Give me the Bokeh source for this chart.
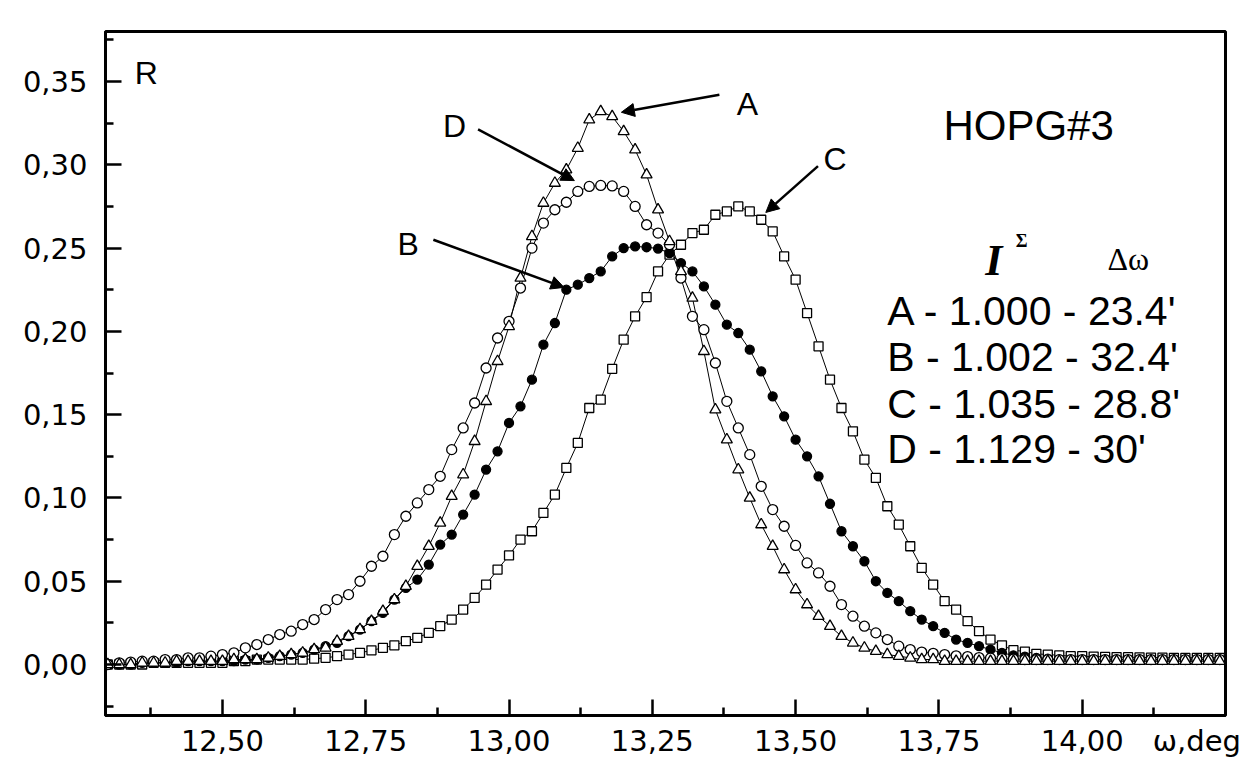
from bokeh.plotting import figure
from bokeh.models import (Range1d, FixedTicker, CustomJSTickFormatter, Label,
                          Arrow, NormalHead, LinearAxis)
from bokeh.embed import file_html
from bokeh.resources import INLINE

# ---------------- data ----------------
omega = [12.30, 12.32, 12.34, 12.36, 12.38, 12.40, 12.42, 12.44, 12.46, 12.48,
         12.50, 12.52, 12.54, 12.56, 12.58, 12.60, 12.62, 12.64, 12.66, 12.68,
         12.70, 12.72, 12.74, 12.76, 12.78, 12.80, 12.82, 12.84, 12.86, 12.88,
         12.90, 12.92, 12.94, 12.96, 12.98, 13.00, 13.02, 13.04, 13.06, 13.08,
         13.10, 13.12, 13.14, 13.16, 13.18, 13.20, 13.22, 13.24, 13.26, 13.28,
         13.30, 13.32, 13.34, 13.36, 13.38, 13.40, 13.42, 13.44, 13.46, 13.48,
         13.50, 13.52, 13.54, 13.56, 13.58, 13.60, 13.62, 13.64, 13.66, 13.68,
         13.70, 13.72, 13.74, 13.76, 13.78, 13.80, 13.82, 13.84, 13.86, 13.88,
         13.90, 13.92, 13.94, 13.96, 13.98, 14.00, 14.02, 14.04, 14.06, 14.08,
         14.10, 14.12, 14.14, 14.16, 14.18, 14.20, 14.22, 14.24]

R_A = [0.000, 0.000, 0.000, 0.001, 0.001, 0.001, 0.002, 0.002, 0.002, 0.002,
       0.002, 0.003, 0.003, 0.003, 0.004,
       0.005, 0.006, 0.007, 0.009, 0.010, 0.014, 0.017, 0.021, 0.026, 0.032,
       0.039, 0.047, 0.059, 0.071, 0.085, 0.101, 0.114, 0.134, 0.158, 0.182,
       0.203, 0.232, 0.257, 0.277, 0.289, 0.297, 0.310, 0.327, 0.332, 0.329,
       0.320, 0.309, 0.294, 0.273, 0.254, 0.236, 0.220, 0.188, 0.153, 0.135,
       0.117, 0.100, 0.084, 0.071, 0.057, 0.045, 0.036, 0.029, 0.023, 0.017,
       0.013, 0.010, 0.008, 0.006, 0.005, 0.004, 0.003, 0.003, 0.002, 0.002,
       0.002, 0.002, 0.002, 0.002, 0.002, 0.002, 0.002, 0.002, 0.002, 0.002,
       0.002, 0.002, 0.002, 0.002, 0.002, 0.002, 0.002, 0.002, 0.002, 0.002,
       0.002, 0.002, 0.002]

R_B = [0.000, 0.000, 0.000, 0.001, 0.001, 0.001, 0.001, 0.002, 0.002, 0.002,
       0.002, 0.002, 0.003, 0.003, 0.004,
       0.005, 0.006, 0.007, 0.009, 0.011, 0.013, 0.017, 0.021, 0.026, 0.031,
       0.039, 0.046, 0.051, 0.060, 0.072, 0.078, 0.090, 0.102, 0.117, 0.128,
       0.145, 0.155, 0.171, 0.192, 0.205, 0.225, 0.228, 0.232, 0.236, 0.245,
       0.250, 0.251, 0.2505, 0.2497, 0.247, 0.241, 0.236, 0.227, 0.216, 0.204,
       0.199, 0.189, 0.176, 0.161, 0.149, 0.135, 0.125, 0.113, 0.0965, 0.080,
       0.071, 0.062, 0.050, 0.043, 0.038, 0.032, 0.027, 0.023, 0.019, 0.015,
       0.013, 0.011, 0.009, 0.007, 0.0055, 0.0048, 0.004, 0.0035, 0.003, 0.003,
       0.003, 0.003, 0.003, 0.003, 0.003, 0.003, 0.003, 0.003, 0.003, 0.003,
       0.003, 0.003, 0.003]

R_C = [0.000, 0.000, 0.000, 0.000, 0.001, 0.001, 0.001, 0.001, 0.001, 0.001,
       0.001, 0.002, 0.002, 0.003, 0.003,
       0.003, 0.003, 0.003, 0.0035, 0.004, 0.005, 0.006, 0.007, 0.0085, 0.010,
       0.0115, 0.014, 0.016, 0.019, 0.023, 0.027, 0.033, 0.040, 0.048, 0.057,
       0.0655, 0.075, 0.080, 0.091, 0.102, 0.118, 0.133, 0.154, 0.159, 0.1775,
       0.195, 0.209, 0.2206, 0.236, 0.246, 0.252, 0.259, 0.261, 0.270, 0.272,
       0.275, 0.272, 0.267, 0.260, 0.245, 0.231, 0.211, 0.191, 0.171, 0.154,
       0.140, 0.123, 0.112, 0.095, 0.084, 0.071, 0.058, 0.048, 0.038, 0.033,
       0.026, 0.020, 0.015, 0.0115, 0.0086, 0.0078, 0.0064, 0.006, 0.0055, 0.005,
       0.005, 0.0048, 0.0046, 0.0045, 0.0044, 0.0043, 0.0042, 0.0041, 0.004, 0.004,
       0.004, 0.004, 0.004]

R_D = [0.000, 0.001, 0.0015, 0.002, 0.002, 0.003, 0.003, 0.004, 0.004, 0.005,
       0.006, 0.007, 0.010, 0.012, 0.015,
       0.018, 0.020, 0.024, 0.027, 0.033, 0.039, 0.042, 0.050, 0.059, 0.065,
       0.078, 0.089, 0.097, 0.105, 0.113, 0.129, 0.142, 0.157, 0.178, 0.196,
       0.206, 0.226, 0.250, 0.265, 0.273, 0.2775, 0.284, 0.287, 0.2876, 0.2873,
       0.284, 0.275, 0.264, 0.259, 0.252, 0.232, 0.209, 0.201, 0.181, 0.158,
       0.142, 0.126, 0.107, 0.093, 0.083, 0.0715, 0.061, 0.055, 0.047, 0.036,
       0.029, 0.023, 0.019, 0.015, 0.011, 0.009, 0.0075, 0.0067, 0.006, 0.0052,
       0.0048, 0.0042, 0.0038, 0.0035, 0.0033, 0.003, 0.003, 0.003, 0.003, 0.003,
       0.003, 0.003, 0.003, 0.003, 0.003, 0.003, 0.003, 0.003, 0.003, 0.003,
       0.003, 0.003, 0.003]

x_major = [12.50, 12.75, 13.00, 13.25, 13.50, 13.75, 14.00]
x_minor = [12.375, 12.625, 12.875, 13.125, 13.375, 13.625, 13.875, 14.125]
y_major = [0.00, 0.05, 0.10, 0.15, 0.20, 0.25, 0.30, 0.35]
y_minor = [-0.025, 0.025, 0.075, 0.125, 0.175, 0.225, 0.275, 0.325, 0.375]
x_unit_pos = 14.20          # where the "ω,deg" unit text sits on the x axis

curve_names = ["A", "B", "C", "D"]
sum_intensity = ["1.000", "1.002", "1.035", "1.129"]
fwhm = ["23.4'", "32.4'", "28.8'", "30'"]

# ---------------- figure ----------------
p = figure(width=1258, height=780, output_backend="svg", toolbar_location=None,
           x_range=Range1d(12.296, 14.25), y_range=Range1d(-0.0306, 0.380),
           min_border_left=105, min_border_right=33, min_border_top=31,
           min_border_bottom=65)
p.grid.visible = False
p.background_fill_color = "white"
p.border_fill_color = "white"
p.outline_line_color = "black"
p.outline_line_width = 3

fmt = CustomJSTickFormatter(code="return tick.toFixed(2).replace('.', ',');")


def style_ticks(ax):
    ax.axis_line_width = 3
    ax.axis_line_color = "black"
    ax.major_tick_in = 16
    ax.major_tick_out = 0
    ax.minor_tick_in = 8
    ax.minor_tick_out = 0
    ax.major_tick_line_width = 2.5
    ax.minor_tick_line_width = 2.5


# y axis
ya = p.yaxis[0]
ya.ticker = FixedTicker(ticks=y_major, minor_ticks=y_minor)
ya.formatter = fmt
style_ticks(ya)
ya.major_label_text_font = "DejaVu Sans"
ya.major_label_text_font_size = "29px"
ya.major_label_text_color = "black"
ya.major_label_standoff = 18

# x axis (nearest the frame): line and tick marks only
xa = p.xaxis[0]
xa.ticker = FixedTicker(ticks=x_major, minor_ticks=x_minor)
xa.formatter = CustomJSTickFormatter(code="return '';")
style_ticks(xa)
xa.major_label_text_font_size = "1px"
xa.major_label_standoff = 0

# second x axis: only the labels, including the unit text "ω,deg"
xl = LinearAxis(ticker=FixedTicker(ticks=x_major + [x_unit_pos], minor_ticks=[]),
                formatter=CustomJSTickFormatter(code="""
                    if (tick > 14.1) { return '\u03c9,deg'; }
                    return tick.toFixed(2).replace('.', ',');"""))
xl.axis_line_color = None
xl.major_tick_line_color = None
xl.minor_tick_line_color = None
xl.major_tick_in = 0
xl.major_tick_out = 0
xl.minor_tick_in = 0
xl.minor_tick_out = 0
xl.major_label_text_font = "DejaVu Sans"
xl.major_label_text_font_size = "29px"
xl.major_label_text_color = "black"
xl.major_label_standoff = 8
p.add_layout(xl, "below")

# curves: connecting line + markers
series = [
    (R_C, "square", 9, "white"),
    (R_B, "circle", 9, "black"),
    (R_D, "circle", 10, "white"),
    (R_A, "triangle", 11, "white"),
]
for ys, mk, sz, fill in series:
    p.line(omega, ys, line_color="black", line_width=1)
for ys, mk, sz, fill in series:
    p.scatter(omega, ys, marker=mk, size=sz, fill_color=fill,
              line_color="black", line_width=1.3)


# ---------------- annotations ----------------
def txt(x, y, s, size, font="Liberation Sans", align="left",
        baseline="alphabetic", style="normal"):
    p.add_layout(Label(x=x, y=y, text=s, text_font=font,
                       text_font_size=size, text_align=align,
                       text_baseline=baseline, text_font_style=style,
                       text_color="black"))


txt(12.367, 0.3553, "R", "32px", align="center")
txt(13.758, 0.3236, "HOPG#3", "42px")

# arrows to curves
arrows = [((13.367, 0.342), (13.196, 0.3315)),   # A
          ((12.868, 0.255), (13.096, 0.2264)),   # B
          ((13.539, 0.2992), (13.448, 0.2714)),  # C
          ((12.946, 0.3213), (13.114, 0.2905))]  # D
for (xs, ys), (xe, ye) in arrows:
    p.add_layout(Arrow(end=NormalHead(size=13, fill_color="black",
                                      line_color="black", line_width=1),
                       x_start=xs, y_start=ys, x_end=xe, y_end=ye,
                       line_width=2.5, line_color="black"))
letter_pos = [(13.416, 0.3367), (12.824, 0.2525), (13.569, 0.3036), (12.905, 0.323)]
for name, (lx, ly) in zip(curve_names, letter_pos):
    txt(lx, ly, name, "32px", align="center")

# table header
txt(13.831, 0.2428, "I", "44px", font="Liberation Serif", style="bold italic")
txt(13.884, 0.2542, "\u03a3", "18px", font="Liberation Serif", style="bold")
txt(14.044, 0.2433, "\u0394\u03c9", "32px", font="Liberation Serif")

row_base = [0.2125, 0.1849, 0.1566, 0.1296]
for name, si, fw, yb in zip(curve_names, sum_intensity, fwhm, row_base):
    txt(13.660, yb, f"{name} - {si} - {fw}", "41px")

open("out.html", "w").write(file_html(p, INLINE))
